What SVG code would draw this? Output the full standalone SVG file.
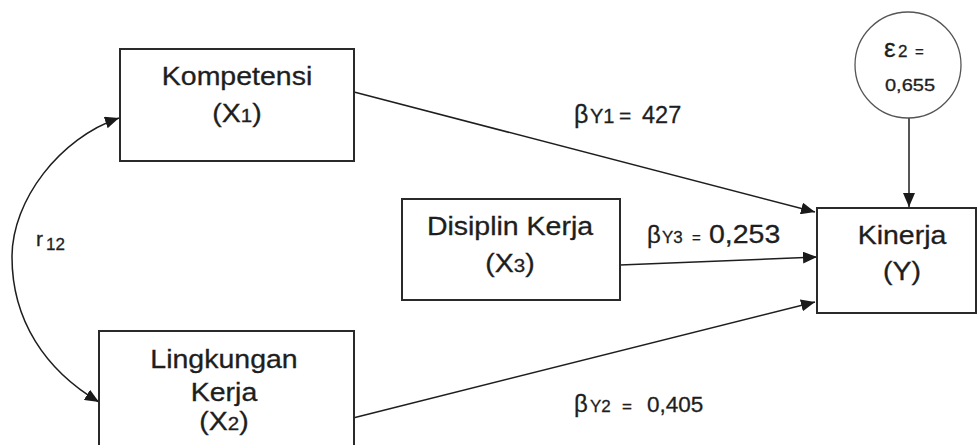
<svg xmlns="http://www.w3.org/2000/svg" width="978" height="445" viewBox="0 0 978 445">
<defs>
<marker id="ah" viewBox="0 0 14 12" refX="14" refY="6" markerWidth="14" markerHeight="12" markerUnits="userSpaceOnUse" orient="auto-start-reverse">
<path d="M0,0 L14,6 L0,12 z" fill="#1a1a1a"/>
</marker>
<style>
.box{fill:#fff;stroke:#2a2a2a;stroke-width:2}
.lbl{font-family:"Liberation Sans",Arial,sans-serif;fill:#1e1e1e;stroke:#1e1e1e;stroke-width:0.3;font-size:25px;text-anchor:middle}
.t{font-family:"Liberation Sans",Arial,sans-serif;fill:#1e1e1e;stroke:#1e1e1e;stroke-width:0.3}
.edge{fill:none;stroke:#1e1e1e;stroke-width:1.5;marker-end:url(#ah)}
</style>
</defs>
<rect width="978" height="445" fill="#fff"/>
<g id="connectors">
<line class="edge" x1="354" y1="92" x2="815" y2="212"/>
<line class="edge" x1="620" y1="265" x2="817" y2="257"/>
<line class="edge" x1="353" y1="418" x2="815" y2="302"/>
<line class="edge" x1="909" y1="118" x2="909" y2="207"/>
<path class="edge" style="marker-start:url(#ah)" d="M119,118 C60,138 12,200 12,257 C12,320 45,370 99,402"/>
<text class="t" x="36" y="246" font-size="21">r<tspan x="46" y="250" font-size="17">12</tspan></text>
<text class="t" font-size="25" x="574" y="123">β<tspan x="590" font-size="20">Y1</tspan><tspan x="619" font-size="21">=</tspan><tspan x="642" font-size="23.5">427</tspan></text>
<text class="t" font-size="24" x="647" y="243">β<tspan x="662" font-size="17">Y3</tspan><tspan x="692" font-size="15">=</tspan></text>
<text class="t" font-size="25" transform="translate(709,243) scale(1.14,1)">0,253</text>
<text class="t" font-size="24" x="574" y="412">β<tspan x="590" font-size="17">Y2</tspan><tspan x="622" font-size="17">=</tspan><tspan x="647" font-size="22.5">0,405</tspan></text>
</g>
<g id="node-kompetensi">
<rect class="box" x="120" y="49" width="234" height="112"/>
<text class="lbl" transform="translate(237,85) scale(1.14,1)">Kompetensi</text>
<text class="lbl" transform="translate(237,122) scale(1.14,1)">(X<tspan font-size="18">1</tspan>)</text>
</g>
<g id="node-disiplin">
<rect class="box" x="402" y="199" width="218" height="101"/>
<text class="lbl" transform="translate(510,235) scale(1.14,1)">Disiplin Kerja</text>
<text class="lbl" transform="translate(510,272) scale(1.14,1)">(X<tspan font-size="18">3</tspan>)</text>
</g>
<g id="node-lingkungan">
<rect class="box" x="99" y="331" width="255" height="125"/>
<text class="lbl" transform="translate(224,368) scale(1.14,1)">Lingkungan</text>
<text class="lbl" transform="translate(224,401) scale(1.14,1)">Kerja</text>
<text class="lbl" transform="translate(224,430) scale(1.14,1)">(X<tspan font-size="18">2</tspan>)</text>
</g>
<g id="node-kinerja">
<rect class="box" x="817" y="208" width="159" height="105"/>
<text class="lbl" transform="translate(902,244) scale(1.14,1)">Kinerja</text>
<text class="lbl" transform="translate(902,280) scale(1.14,1)">(Y)</text>
</g>
<g id="node-error">
<circle cx="908" cy="65" r="53" fill="#fff" stroke="#555" stroke-width="1.3"/>
<text class="t" font-size="26" x="884" y="57">ε<tspan x="898" font-size="17">2</tspan><tspan x="915" font-size="15">=</tspan></text>
<text class="t" font-size="17" text-anchor="middle" transform="translate(910,91) scale(1.18,1)">0,655</text>
</g>
</svg>
